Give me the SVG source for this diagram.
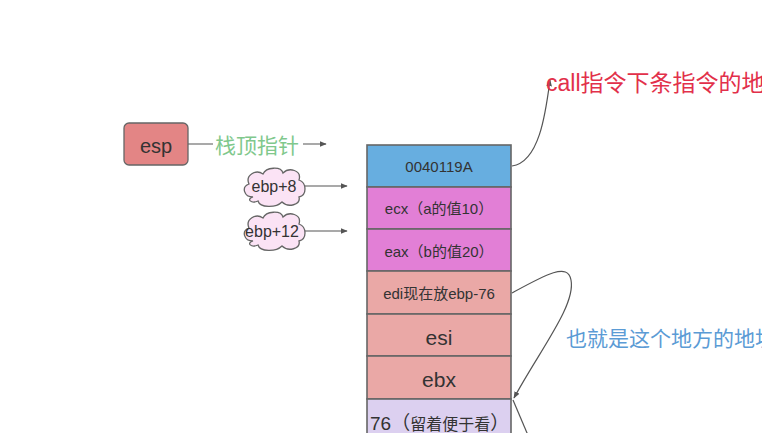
<svg xmlns="http://www.w3.org/2000/svg" width="762" height="433" viewBox="0 0 762 433">
<style>
text{font-family:"Liberation Sans","Noto Sans CJK SC",sans-serif;fill:#333;}
.c{text-anchor:middle;}
.cell{stroke:#666;stroke-width:1.6;}
.ln{fill:none;stroke:#555;stroke-width:1.2;}
.cloud{fill:#fbe3f5;stroke:#666;stroke-width:1.3;}
</style>
<defs>
<marker id="ar" viewBox="0 0 10 10" refX="9" refY="5" markerWidth="7" markerHeight="7" orient="auto" markerUnits="userSpaceOnUse">
<path d="M0,1 L10,5 L0,9 Z" fill="#555"/>
</marker>
<path id="cl" d="M12,31 C3,31 0,21 8,18 C4,9 15,3 22,8 C25,1 40,0 42,7 C48,1 61,4 58,14 C66,17 66,29 58,31 C60,39 47,42 41,36 C35,42 19,42 17,35 C10,38 5,33 12,31 Z"/>
</defs>
<rect width="762" height="433" fill="#fff"/>
<g id="connectors">
<line class="ln" x1="188" y1="144" x2="326" y2="144" marker-end="url(#ar)"/>
<line class="ln" x1="305" y1="186" x2="347" y2="186" marker-end="url(#ar)"/>
<line class="ln" x1="305" y1="231" x2="347" y2="231" marker-end="url(#ar)"/>
<path class="ln" d="M512,166 C540,162 546,110 550,80" marker-end="url(#ar)"/>
<path class="ln" d="M512,293 C545,275 568,262 571,280 C576,305 540,350 514,398" marker-end="url(#ar)"/>
<line class="ln" x1="513" y1="400" x2="530" y2="440"/>
<rect x="213" y="133" width="90" height="24" fill="#fff"/>
<text x="215" y="153" font-size="21" style="fill:#80c88c">栈顶指针</text>
</g>
<g id="esp">
<rect x="124" y="123" width="64" height="42" rx="5" fill="#e38585" stroke="#666" stroke-width="1.3"/>
<text class="c" x="156" y="153" font-size="20">esp</text>
</g>
<g id="ebp8">
<use href="#cl" class="cloud" transform="translate(241,166)"/>
<text class="c" x="274" y="192" font-size="16">ebp+8</text>
</g>
<g id="ebp12">
<use href="#cl" class="cloud" transform="translate(241,210)"/>
<text class="c" x="272" y="237" font-size="16">ebp+12</text>
</g>
<g id="ret">
<rect class="cell" x="367" y="145" width="144" height="42" fill="#67aee0"/>
<text class="c" x="439" y="172" font-size="15">0040119A</text>
</g>
<g id="ecx">
<rect class="cell" x="367" y="187" width="144" height="42" fill="#e27fd6"/>
<text class="c" x="439" y="214" font-size="15">ecx（a的值10）</text>
</g>
<g id="eax">
<rect class="cell" x="367" y="229" width="144" height="42" fill="#e27fd6"/>
<text class="c" x="439" y="257" font-size="15">eax（b的值20）</text>
</g>
<g id="edi">
<rect class="cell" x="367" y="271" width="144" height="43" fill="#eaa8a6"/>
<text class="c" x="439" y="299" font-size="15">edi现在放ebp-76</text>
</g>
<g id="esi">
<rect class="cell" x="367" y="314" width="144" height="42" fill="#eaa8a6"/>
<text class="c" x="439" y="345" font-size="21">esi</text>
</g>
<g id="ebx">
<rect class="cell" x="367" y="356" width="144" height="43" fill="#eaa8a6"/>
<text class="c" x="439" y="387" font-size="21">ebx</text>
</g>
<g id="local">
<rect class="cell" x="367" y="399" width="144" height="50" fill="#dcd0f0"/>
<text x="370" y="430" font-size="19">76（<tspan font-size="16">留着便于看</tspan>）</text>
</g>
<g id="labels">
<text x="546" y="91" font-size="23" style="fill:#e2304a">call指令下条指令的地址</text>
<text x="566" y="346" font-size="21" style="fill:#5b9bd5">也就是这个地方的地址</text>
</g>
</svg>
